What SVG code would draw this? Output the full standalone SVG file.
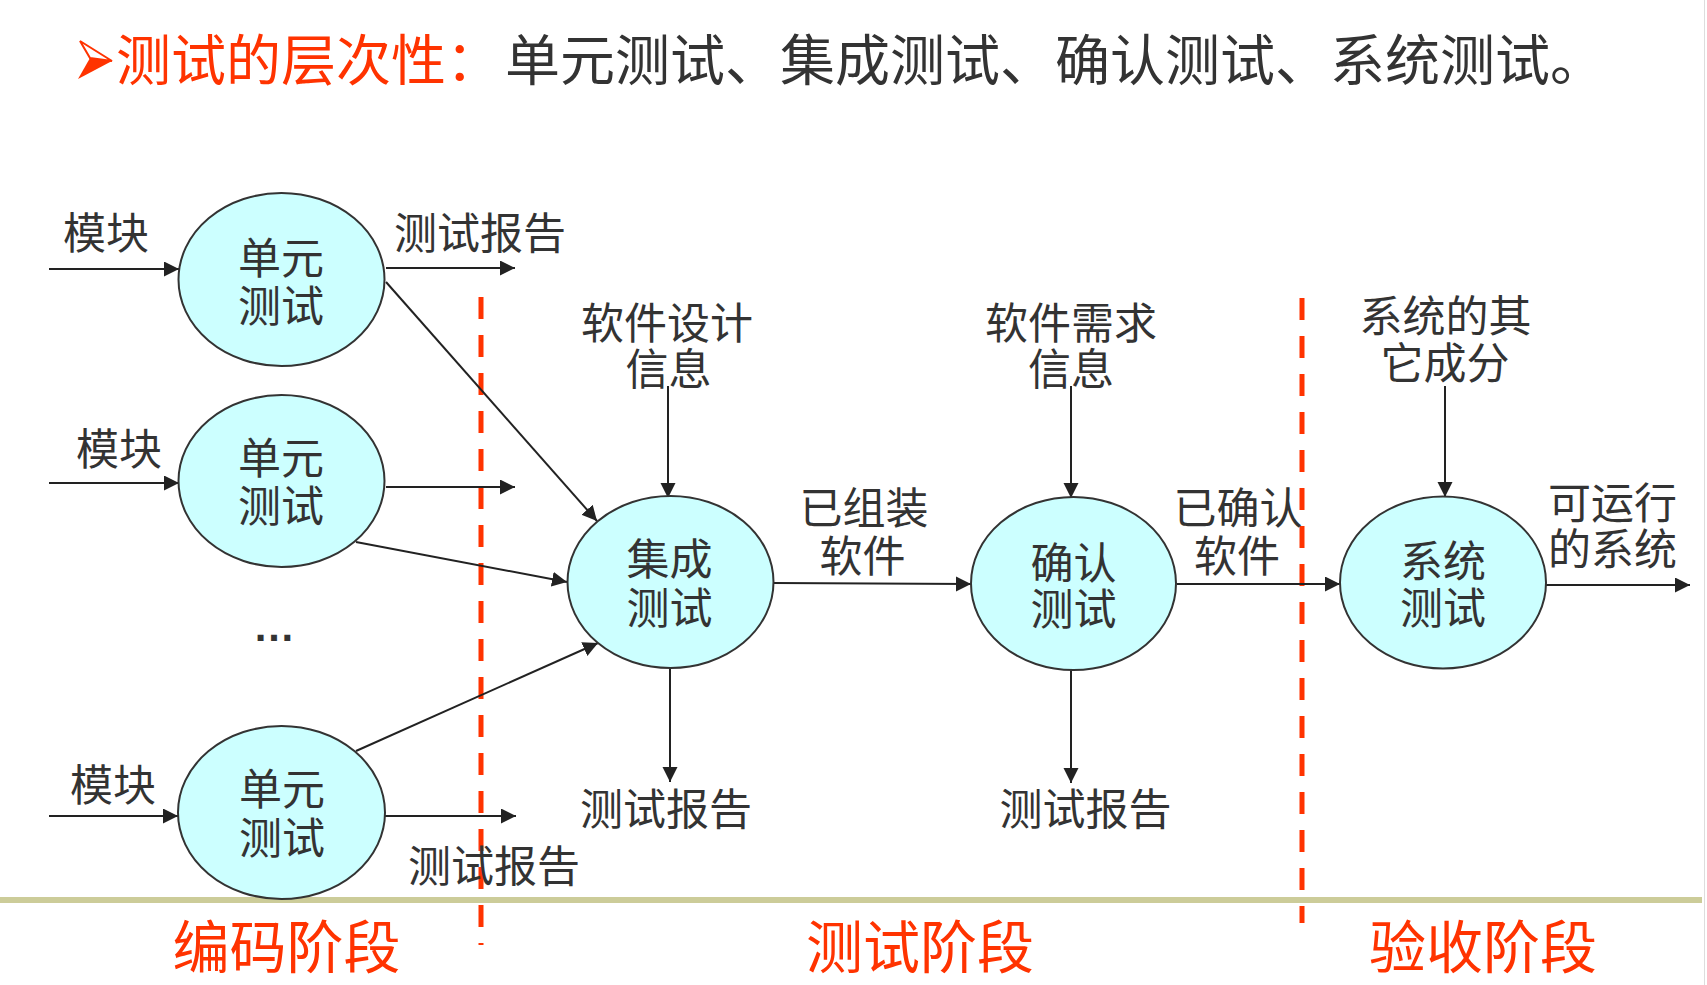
<svg xmlns="http://www.w3.org/2000/svg" width="1707" height="985" viewBox="0 0 1707 985">
<defs>
<style>
.t{font-family:"Noto Sans CJK SC","Liberation Sans",sans-serif;fill:#333333;font-size:43px;text-anchor:middle}
.r{font-family:"Noto Sans CJK SC","Liberation Sans",sans-serif;fill:#FF3300;font-size:57px;text-anchor:middle}
.node{fill:#CCFFFF;stroke:#333333;stroke-width:2}
.c{stroke:#222222;stroke-width:2;fill:none;marker-end:url(#ah)}
.d{stroke:#FF3300;stroke-width:5;stroke-dasharray:22 16;fill:none}
</style>
<marker id="ah" markerUnits="userSpaceOnUse" markerWidth="17" markerHeight="16" refX="15" refY="7.5" orient="auto">
<path d="M0,0 L15,7.5 L0,15 z" fill="#222222"/>
</marker>
</defs>
<rect width="1707" height="985" fill="#FFFFFF"/>
<line x1="1704.5" y1="0" x2="1704.5" y2="985" stroke="#DDDDDD" stroke-width="1"/>

<g id="title">
<polygon points="80,41 112,61 90,58" fill="#FFFFFF" stroke="#FF3300" stroke-width="2"/>
<polygon points="90,58 112,61 78,79" fill="#FF3300"/>
<text x="116" y="80" style="font-family:'Noto Sans CJK SC','Liberation Sans',sans-serif;font-size:55px"><tspan fill="#FF3300">测试的层次性：</tspan><tspan x="505" fill="#333333">单元测试、集成测试、确认测试、系统测试。</tspan></text>
</g>

<g id="phase-lines">
<line class="d" x1="481" y1="297" x2="481" y2="945"/>
<line class="d" x1="1302" y1="298" x2="1302" y2="923"/>
<rect x="0" y="897" width="1702" height="6" fill="#CCCC99"/>
</g>

<g id="connectors">
<line class="c" x1="49" y1="269" x2="179" y2="269"/>
<line class="c" x1="49" y1="483" x2="179" y2="483"/>
<line class="c" x1="49" y1="816" x2="178" y2="816"/>
<line class="c" x1="386" y1="268" x2="515" y2="268"/>
<line class="c" x1="386" y1="487" x2="515" y2="487"/>
<line class="c" x1="385" y1="816" x2="516" y2="816"/>
<line class="c" x1="386" y1="282" x2="597" y2="521"/>
<line class="c" x1="356" y1="542" x2="567" y2="582"/>
<line class="c" x1="356" y1="751" x2="598" y2="643"/>
<line class="c" x1="668" y1="386" x2="668" y2="498"/>
<line class="c" x1="774" y1="583" x2="971" y2="584"/>
<line class="c" x1="1071" y1="386" x2="1071" y2="498"/>
<line class="c" x1="1177" y1="584" x2="1340" y2="584"/>
<line class="c" x1="1445" y1="386" x2="1445" y2="497"/>
<line class="c" x1="1546" y1="585" x2="1690" y2="585"/>
<line class="c" x1="670" y1="668" x2="670" y2="782"/>
<line class="c" x1="1071" y1="670" x2="1071" y2="783"/>
</g>

<g id="unit1">
<ellipse class="node" cx="281.5" cy="279.5" rx="103" ry="86.5"/>
<text class="t" y="274"><tspan x="281">单元</tspan><tspan x="281" dy="48">测试</tspan></text>
</g>
<g id="unit2">
<ellipse class="node" cx="281.5" cy="481" rx="103" ry="86"/>
<text class="t" y="474"><tspan x="281">单元</tspan><tspan x="281" dy="48">测试</tspan></text>
</g>
<g id="unit3">
<ellipse class="node" cx="281.5" cy="812.5" rx="103.5" ry="86.5"/>
<text class="t" y="805"><tspan x="282">单元</tspan><tspan x="282" dy="49">测试</tspan></text>
</g>
<g id="integration">
<ellipse class="node" cx="670.5" cy="582" rx="103" ry="86"/>
<text class="t" y="575"><tspan x="669.5">集成</tspan><tspan x="669.5" dy="49">测试</tspan></text>
</g>
<g id="confirm">
<ellipse class="node" cx="1073.5" cy="583.5" rx="102.5" ry="86.5"/>
<text class="t" y="579"><tspan x="1073.5">确认</tspan><tspan x="1073.5" dy="46">测试</tspan></text>
</g>
<g id="system">
<ellipse class="node" cx="1443" cy="582.5" rx="103" ry="86"/>
<text class="t" y="577"><tspan x="1443">系统</tspan><tspan x="1443" dy="47">测试</tspan></text>
</g>

<g id="labels">
<text class="t" x="106" y="249">模块</text>
<text class="t" x="119" y="465">模块</text>
<text class="t" x="113" y="801">模块</text>
<text class="t" x="480" y="249">测试报告</text>
<text class="t" x="494" y="882">测试报告</text>
<text class="t" x="666" y="825">测试报告</text>
<text class="t" x="1085.5" y="825">测试报告</text>
<text x="253" y="641" style="font-family:'Liberation Sans',sans-serif;font-size:42px;font-weight:bold;fill:#333333">…</text>
<text class="t" y="339"><tspan x="667">软件设计</tspan><tspan x="668.5" dy="46">信息</tspan></text>
<text class="t" y="339"><tspan x="1071">软件需求</tspan><tspan x="1071" dy="46">信息</tspan></text>
<text class="t" y="332"><tspan x="1445.5">系统的其</tspan><tspan x="1445" dy="47">它成分</tspan></text>
<text class="t" y="524"><tspan x="864">已组装</tspan><tspan x="862.5" dy="48">软件</tspan></text>
<text class="t" y="524"><tspan x="1238">已确认</tspan><tspan x="1237" dy="48">软件</tspan></text>
<text class="t" y="519"><tspan x="1612.5">可运行</tspan><tspan x="1612.5" dy="46">的系统</tspan></text>
</g>

<g id="phases">
<text class="r" x="286.5" y="968">编码阶段</text>
<text class="r" x="920" y="968">测试阶段</text>
<text class="r" x="1483" y="968">验收阶段</text>
</g>
</svg>
